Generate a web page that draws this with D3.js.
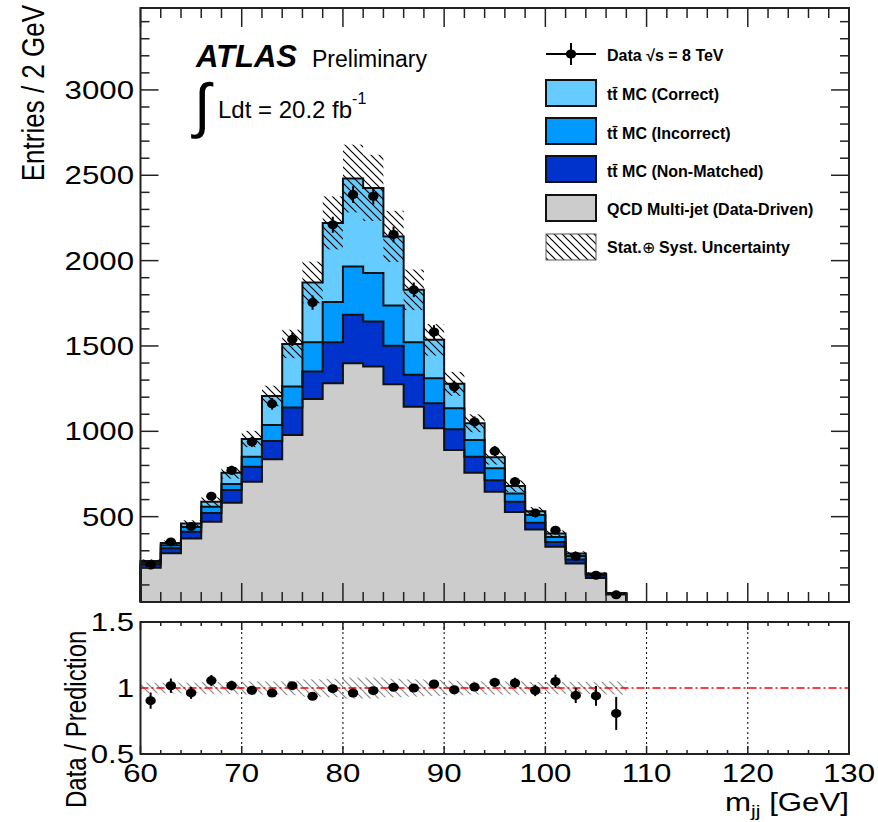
<!DOCTYPE html>
<html>
<head>
<meta charset="utf-8">
<script src="https://cdn.jsdelivr.net/npm/d3@7"></script>
<style>
body { margin: 0; background: #fff; }
text { font-family: "Liberation Sans", Arial, Helvetica, sans-serif; fill: #000; }
</style>
</head>
<body>
<svg id="chart" width="878" height="822"></svg>
<script>
// bins of 2 GeV, low edges (only the filled ones, 108-130 is empty)
var binLow = [60,62,64,66,68,70,72,74,76,78,80,82,84,86,88,90,92,94,96,98,100,102,104,106];

// stacked MC components, entries per bin
var qcd        = [200,286,372,470,581,704,836,978,1190,1282,1399,1379,1276,1144,1018,890,757,646,528,425,323,225,140,44];
var nonMatched = [20,29,39,52,75,88,107,161,160,240,284,264,225,187,146,122,94,68,59,39,29,24,15,4];
var incorrect  = [10,18,29,36,35,59,94,123,172,235,283,284,236,191,147,123,98,69,49,45,29,21,7,2];
var correct    = [10,13,20,29,66,104,170,250,350,464,515,499,405,307,225,143,98,65,43,23,20,14,5,2];

// data and its stat. error
var dataVals = [217,352,443,620,771,938,1161,1539,1754,2210,2387,2377,2153,1829,1582,1261,1055,884,705,522,421,268,157,42];
var dataErr  = [14.7,18.8,21,24.9,27.8,30.6,34.1,39.2,41.9,47,48.9,48.8,46.4,42.8,39.8,35.5,32.5,29.7,26.6,22.8,20.5,16.4,12.5,6.5];

// relative stat+syst uncertainty on prediction
var systRel = [0.04,0.04,0.04,0.045,0.045,0.05,0.05,0.055,0.065,0.07,0.08,0.08,0.07,0.065,0.06,0.055,0.05,0.05,0.05,0.045,0.045,0.045,0.045,0.05];

var xMajor = [60,70,80,90,100,110,120,130];
var yMajor = [500,1000,1500,2000,2500,3000];
var ratioTicks = [0.5,1,1.5];
var ratioLabels = ["0.5","1","1.5"];
var gridX = [70,80,90,100,110,120];

var colors = { qcd: "#cccccc", nm: "#0033cc", inc: "#0099ff", cor: "#66ccff" };

var svg = d3.select("#chart");
var SX = 1.2; // the reference is a bit wider than tall, stretch the axis text

var x = d3.scaleLinear().domain([60,130]).range([140.5,849]);
var y = d3.scaleLinear().domain([0,3480]).range([602,8]);
var yr = d3.scaleLinear().domain([0.5,1.5]).range([754,622]);

var defs = svg.append("defs");
function hatch(id, col, w) {
  var p = defs.append("pattern").attr("id", id)
    .attr("patternUnits","userSpaceOnUse").attr("width",8).attr("height",8);
  p.append("path").attr("d","M0,0L8,8M-2,6L2,10M6,-2L10,2")
    .attr("stroke",col).attr("stroke-width",w).attr("fill","none");
}
hatch("hatchBlack", "#000", 1.2);
hatch("hatchGrey", "#8a8a8a", 1.2);

// stack
var rows = binLow.map(function(b,i){
  return { qcd: qcd[i], nm: nonMatched[i], inc: incorrect[i], cor: correct[i] };
});
var keys = ["qcd","nm","inc","cor"];
var stacked = d3.stack().keys(keys)(rows);
var total = stacked[3].map(function(d){ return d[1]; });

function steps(vals) {
  var pts = [[60,0]];
  vals.forEach(function(v,i){ pts.push([binLow[i], v]); });
  pts.push([108,0]);
  pts.push([130,0]);
  return pts;
}
var area = d3.area().curve(d3.curveStepAfter)
  .x(function(d){ return x(d[0]); }).y0(y(0)).y1(function(d){ return y(d[1]); });
var line = d3.line().curve(d3.curveStepAfter)
  .x(function(d){ return x(d[0]); }).y(function(d){ return y(d[1]); });

var main = svg.append("g");
// draw from the top layer down so lower ones sit in front
for (var k = stacked.length - 1; k >= 0; k--) {
  var tops = stacked[k].map(function(d){ return d[1]; });
  main.append("path").attr("d", area(steps(tops))).attr("fill", colors[keys[k]]);
}
for (var k2 = stacked.length - 1; k2 >= 0; k2--) {
  var tops2 = stacked[k2].map(function(d){ return d[1]; });
  main.append("path").attr("d", line(steps(tops2)))
    .attr("fill","none").attr("stroke","#111").attr("stroke-width",2);
}

// uncertainty band
main.selectAll("rect.unc").data(total).enter().append("rect")
  .attr("class","unc")
  .attr("x", function(d,i){ return x(binLow[i]); })
  .attr("width", function(d,i){ return x(binLow[i]+2) - x(binLow[i]); })
  .attr("y", function(d,i){ return y(d*(1+systRel[i])); })
  .attr("height", function(d,i){ return y(d*(1-systRel[i])) - y(d*(1+systRel[i])); })
  .attr("fill","url(#hatchBlack)");

// data
main.selectAll("line.err").data(dataVals).enter().append("line")
  .attr("x1", function(d,i){ return x(binLow[i]+1); })
  .attr("x2", function(d,i){ return x(binLow[i]+1); })
  .attr("y1", function(d,i){ return y(d - dataErr[i]); })
  .attr("y2", function(d,i){ return y(d + dataErr[i]); })
  .attr("stroke","#000").attr("stroke-width",2);
main.selectAll("ellipse.pt").data(dataVals).enter().append("ellipse")
  .attr("cx", function(d,i){ return x(binLow[i]+1); })
  .attr("cy", function(d){ return y(d); })
  .attr("rx", 5.2).attr("ry", 4.5).attr("fill","#000");

// frame + ticks
function ticks(g, scale, vals, len, orient, y0, y1) {
  vals.forEach(function(v){
    var p = scale(v);
    if (orient === "x") {
      g.append("line").attr("x1",p).attr("x2",p).attr("y1",y0).attr("y2",y0-len).attr("stroke","#222").attr("stroke-width",1.5);
      g.append("line").attr("x1",p).attr("x2",p).attr("y1",y1).attr("y2",y1+len).attr("stroke","#222").attr("stroke-width",1.5);
    } else {
      g.append("line").attr("y1",p).attr("y2",p).attr("x1",y0).attr("x2",y0+len).attr("stroke","#222").attr("stroke-width",1.5);
      g.append("line").attr("y1",p).attr("y2",p).attr("x1",y1).attr("x2",y1-len).attr("stroke","#222").attr("stroke-width",1.5);
    }
  });
}
var axg = svg.append("g");
var xMinor = d3.range(62,130,2).filter(function(v){ return v % 10 !== 0; });
var yMinor = d3.range(100,3480,100).filter(function(v){ return v % 500 !== 0; });
ticks(axg, x, xMajor, 19, "x", 602, 8);
ticks(axg, x, xMinor, 10, "x", 602, 8);
ticks(axg, y, yMajor, 18, "y", 140.5, 849);
ticks(axg, y, yMinor, 9, "y", 140.5, 849);
axg.append("rect").attr("x",140.5).attr("y",8).attr("width",849-140.5).attr("height",602-8)
  .attr("fill","none").attr("stroke","#222").attr("stroke-width",2);

axg.selectAll("text.yl").data(yMajor).enter().append("text")
  .attr("transform",function(d){ return "translate(134," + (y(d)+9) + ") scale(" + SX + ",1)"; })
  .attr("text-anchor","end").style("font-size","26px")
  .text(function(d){ return d; });

svg.append("text").attr("transform","translate(44,5) scale(" + SX + ",1) rotate(-90)")
  .attr("text-anchor","end").style("font-size","26px").text("Entries / 2 GeV");

// ratio panel
var rp = svg.append("g");
rp.selectAll("line.grid").data(gridX).enter().append("line")
  .attr("x1",function(d){ return x(d); }).attr("x2",function(d){ return x(d); })
  .attr("y1",622).attr("y2",754).attr("stroke","#000").attr("stroke-width",1)
  .attr("stroke-dasharray","2,3");
rp.selectAll("rect.runc").data(systRel).enter().append("rect")
  .attr("x", function(d,i){ return x(binLow[i]); })
  .attr("width", function(d,i){ return x(binLow[i]+2) - x(binLow[i]); })
  .attr("y", function(d){ return yr(1+d); })
  .attr("height", function(d){ return yr(1-d) - yr(1+d); })
  .attr("fill","url(#hatchGrey)");
rp.append("line").attr("x1",x(60)).attr("x2",x(130)).attr("y1",yr(1)).attr("y2",yr(1))
  .attr("stroke","#ff0000").attr("stroke-width",1.5).attr("stroke-dasharray","8,3,2,3");
var ratio = dataVals.map(function(d,i){ return d/total[i]; });
rp.selectAll("line.rerr").data(ratio).enter().append("line")
  .attr("x1", function(d,i){ return x(binLow[i]+1); })
  .attr("x2", function(d,i){ return x(binLow[i]+1); })
  .attr("y1", function(d,i){ return yr(d - dataErr[i]/total[i]); })
  .attr("y2", function(d,i){ return yr(d + dataErr[i]/total[i]); })
  .attr("stroke","#000").attr("stroke-width",2);
rp.selectAll("ellipse.rpt").data(ratio).enter().append("ellipse")
  .attr("cx", function(d,i){ return x(binLow[i]+1); })
  .attr("cy", function(d){ return yr(d); })
  .attr("rx", 5.2).attr("ry", 4.5).attr("fill","#000");
ticks(rp, x, xMajor, 8, "x", 754, 622);
ticks(rp, x, xMinor, 4, "x", 754, 622);
rp.append("rect").attr("x",140.5).attr("y",622).attr("width",849-140.5).attr("height",754-622)
  .attr("fill","none").attr("stroke","#222").attr("stroke-width",2);

rp.selectAll("text.rl").data(ratioTicks).enter().append("text")
  .attr("transform",function(d){ return "translate(134," + (yr(d)+9) + ") scale(" + SX + ",1)"; })
  .attr("text-anchor","end").style("font-size","26px")
  .text(function(d,i){ return ratioLabels[i]; });
rp.selectAll("text.xl").data(xMajor).enter().append("text")
  .attr("transform",function(d){ return "translate(" + x(d) + ",782) scale(" + SX + ",1)"; })
  .attr("text-anchor","middle").style("font-size","26px")
  .text(function(d){ return d; });

var xt = svg.append("text").attr("transform","translate(849,811) scale(1.25,1)")
  .attr("text-anchor","end").style("font-size","25px");
xt.append("tspan").text("m");
xt.append("tspan").attr("dy",6).style("font-size","17px").text("jj");
xt.append("tspan").attr("dy",-6).text(" [GeV]");

svg.append("text").attr("transform","translate(86,808) scale(" + SX + ",1) rotate(-90)")
  .attr("text-anchor","start").style("font-size","24px").text("Data / Prediction");

// ATLAS label
svg.append("text").attr("x",196).attr("y",67).style("font-size","31px")
  .style("font-weight","bold").style("font-style","italic").text("ATLAS");
svg.append("text").attr("x",312).attr("y",67).style("font-size","23px").text("Preliminary");
svg.append("text").attr("x",194).attr("y",126).style("font-size","60px").text("\u222b");
var lum = svg.append("text").attr("x",218).attr("y",118).style("font-size","24px");
lum.append("tspan").text("Ldt = 20.2 fb");
lum.append("tspan").attr("dy",-14).style("font-size","16px").text("-1");

// legend
var leg = svg.append("g");
var legItems = [
  { label: "t\u0074\u0304 MC (Correct)", fill: colors.cor, top: 80, base: 100 },
  { label: "t\u0074\u0304 MC (Incorrect)", fill: colors.inc, top: 118, base: 139 },
  { label: "t\u0074\u0304 MC (Non-Matched)", fill: colors.nm, top: 156, base: 177 },
  { label: "QCD Multi-jet (Data-Driven)", fill: colors.qcd, top: 195, base: 215 }
];
legItems.forEach(function(it){
  leg.append("rect").attr("x",546).attr("y",it.top).attr("width",50).attr("height",26)
    .attr("fill",it.fill).attr("stroke","#111").attr("stroke-width",2);
  leg.append("text").attr("x",607).attr("y",it.base).style("font-size","16px")
    .style("font-weight","bold").text(it.label);
});
leg.append("rect").attr("x",546).attr("y",234).attr("width",50).attr("height",26)
  .attr("fill","url(#hatchBlack)").attr("stroke","#555").attr("stroke-width",1);
var st = leg.append("text").attr("x",607).attr("y",253).style("font-size","16px").style("font-weight","bold");
st.append("tspan").text("Stat.");
st.append("tspan").style("font-weight","normal").text("\u2295");
st.append("tspan").text(" Syst. Uncertainty");

leg.append("line").attr("x1",546).attr("x2",596).attr("y1",54).attr("y2",54).attr("stroke","#000").attr("stroke-width",2);
leg.append("line").attr("x1",571).attr("x2",571).attr("y1",43).attr("y2",65).attr("stroke","#000").attr("stroke-width",2);
leg.append("ellipse").attr("cx",571).attr("cy",54).attr("rx",5.2).attr("ry",4.5).attr("fill","#000");
leg.append("text").attr("x",607).attr("y",61).style("font-size","16px").style("font-weight","bold")
  .text("Data  \u221as = 8 TeV");
</script>
</body>
</html>
